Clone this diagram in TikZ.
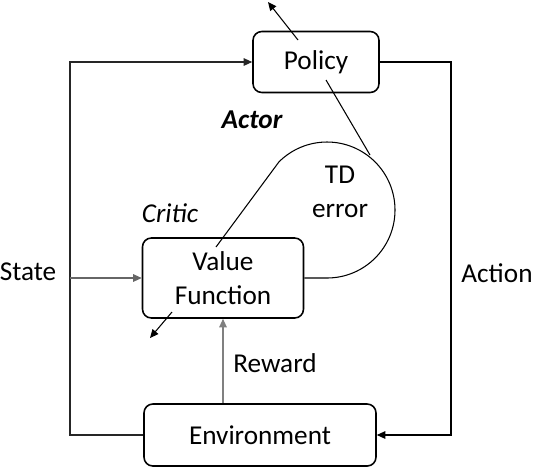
\documentclass[tikz,border=0pt]{standalone}
\usepackage{fontspec}
\setmainfont{Carlito}
\usetikzlibrary{arrows.meta,positioning}

\begin{document}
\begin{tikzpicture}[x=0.02cm,y=-0.02cm,
  font=\fontsize{15.5}{19.5}\selectfont,
  box/.style={draw=black,fill=white,rounded corners=5pt,line width=0.9pt,align=center,inner sep=0pt},
  arr/.style={-{Triangle[length=1.7mm,width=1.5mm]},line width=0.6pt},
  lbl/.style={font=\fontsize{15.5}{19.5}\selectfont\itshape},
  wire/.style={line width=0.6pt}]
\useasboundingbox (0,0) rectangle (534,468);
% boxes
\node[box,minimum width=2.52cm,minimum height=1.22cm] (policy) at (316,62) {Policy};
\node[box,minimum width=3.22cm,minimum height=1.6cm] (vf) at (223,278) {Value\\Function};
\node[box,minimum width=4.64cm,minimum height=1.24cm] (env) at (260,435) {Environment};
% labels
\node (state) at (28,272) {State};
\node (action) at (497,273) {Action};
\node (reward) at (275,363) {Reward};
\node[lbl,font=\fontsize{15.5}{19.5}\selectfont\bfseries\itshape] (actor) at (252,120) {Actor};
\node[lbl] (critic) at (170,213) {Critic};
\node[align=center] (td) at (340,192) {TD\\error};
% outer loop
\coordinate (lft) at (70,433);
\coordinate (rgt) at (451,278);
\draw[arr,black!85] (env.west) -- (lft |- env.west) |- (policy.west);
\draw[arr,gray!80!black] (lft |- vf.west) -- (vf.west);
\draw[arr] (policy.east) -| (rgt) |- (env.east);
\draw[arr,gray] (vf.south |- env.north) -- (vf.south);
% TD error loop
\coordinate (vfin) at (216,247);
\draw[wire] (vf.east) -- (327,278) arc[start angle=90,end angle=-135,radius=68] -- (vfin);
\coordinate (tdtop) at (370,155);
\coordinate (polin) at (326,80);
\draw[wire] (tdtop) -- (polin);
\coordinate (polout) at (298,40);
\coordinate (polarr) at (268,2);
\draw[arr] (polout) -- (polarr);
\coordinate (vfout) at (172,312);
\coordinate (vfarr) at (150,338);
\draw[arr] (vfout) -- (vfarr);
\end{tikzpicture}
\end{document}
